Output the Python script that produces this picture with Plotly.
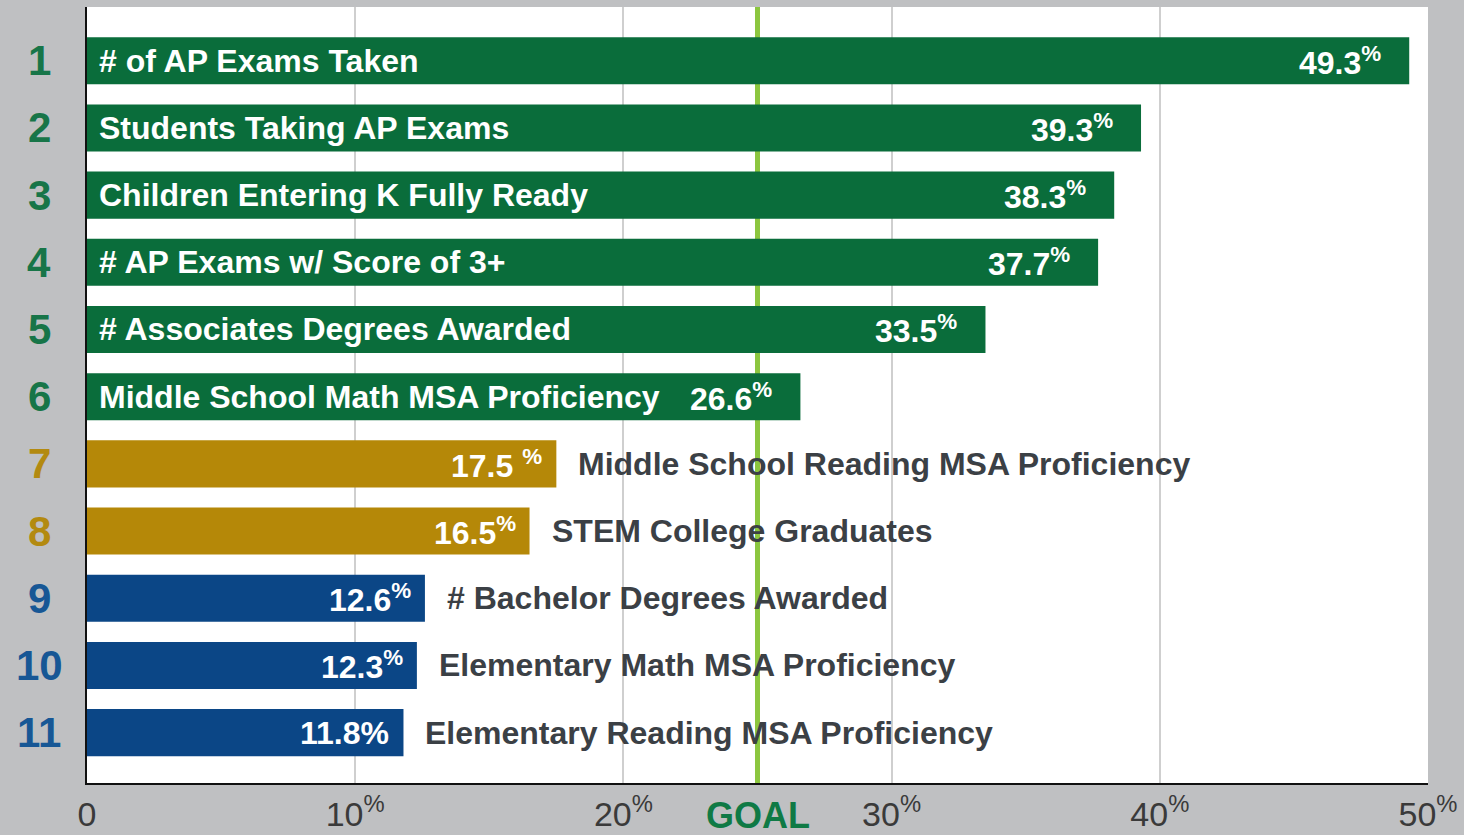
import plotly.graph_objects as go

# ---------------- data ----------------
ranks = [1, 2, 3, 4, 5, 6, 7, 8, 9, 10, 11]
labels = [
    "# of AP Exams Taken",
    "Students Taking AP Exams",
    "Children Entering K Fully Ready",
    "# AP Exams w/ Score of 3+",
    "# Associates Degrees Awarded",
    "Middle School Math MSA Proficiency",
    "Middle School Reading MSA Proficiency",
    "STEM College Graduates",
    "# Bachelor Degrees Awarded",
    "Elementary Math MSA Proficiency",
    "Elementary Reading MSA Proficiency",
]
values = [49.3, 39.3, 38.3, 37.7, 33.5, 26.6, 17.5, 16.5, 12.6, 12.3, 11.8]
value_text = ["49.3<sup>%</sup>", "39.3<sup>%</sup>", "38.3<sup>%</sup>", "37.7<sup>%</sup>",
              "33.5<sup>%</sup>", "26.6<sup>%</sup>", "17.5 <sup>%</sup>", "16.5<sup>%</sup>",
              "12.6<sup>%</sup>", "12.3<sup>%</sup>", "11.8%"]
tiers = ["top", "top", "top", "top", "top", "top", "mid", "mid", "low", "low", "low"]
goal = 25
tick_vals = [0, 10, 20, 30, 40, 50]
tick_labels = ["0", "10<sup>%</sup>", "20<sup>%</sup>", "30<sup>%</sup>", "40<sup>%</sup>", "50<sup>%</sup>"]
goal_label = "GOAL"

# ---------------- styles ----------------
bar_colors = {"top": "#0a6d3b", "mid": "#b58808", "low": "#0b4686"}
num_colors = {"top": "#177548", "mid": "#b38a10", "low": "#175795"}
FONT = "Liberation Sans, Arial, sans-serif"
BG = "#bfc0c2"
TXT = 32

fig = go.Figure()
fig.add_trace(go.Bar(
    x=values, y=ranks, orientation="h",
    marker=dict(color=[bar_colors[t] for t in tiers], line=dict(width=0)),
    width=0.7, hoverinfo="skip", showlegend=False,
))

annotations = []
for r, lab, v, vt, t in zip(ranks, labels, values, value_text, tiers):
    annotations.append(dict(
        x=0, xref="paper", y=r, yref="y", text=str(r), showarrow=False,
        xanchor="center", xshift=-48,
        font=dict(family=FONT, size=42, color=num_colors[t], weight="bold"),
    ))
    if t == "top":
        annotations.append(dict(
            x=0, y=r, xref="x", yref="y", text=lab, showarrow=False,
            xanchor="left", xshift=10,
            font=dict(family=FONT, size=TXT, color="white", weight="bold"),
        ))
        annotations.append(dict(
            x=v, y=r, xref="x", yref="y", text=vt, showarrow=False,
            xanchor="right", xshift=-26,
            font=dict(family=FONT, size=TXT, color="white", weight="bold"),
        ))
    else:
        annotations.append(dict(
            x=v, y=r, xref="x", yref="y", text=vt, showarrow=False,
            xanchor="right", xshift=-12,
            font=dict(family=FONT, size=TXT, color="white", weight="bold"),
        ))
        annotations.append(dict(
            x=v, y=r, xref="x", yref="y", text=lab, showarrow=False,
            xanchor="left", xshift=20,
            font=dict(family=FONT, size=TXT, color="#3b4045", weight="bold"),
        ))

annotations.append(dict(
    x=goal, xref="x", y=0, yref="paper", text=goal_label, showarrow=False,
    xanchor="center", yanchor="top", yshift=-10,
    font=dict(family=FONT, size=36, color="#0f7a45", weight="bold"),
))

fig.add_shape(type="line", x0=goal, x1=goal, xref="x", y0=0, y1=1, yref="paper",
              line=dict(color="#8cc63f", width=5), layer="below")

fig.update_layout(
    width=1464, height=835,
    margin=dict(l=87, r=36, t=7, b=52),
    paper_bgcolor=BG, plot_bgcolor="white",
    bargap=0.3,
    annotations=annotations,
    xaxis=dict(
        range=[0, 50], tickvals=tick_vals, ticktext=tick_labels,
        showgrid=True, gridcolor="#cfcfcf", gridwidth=1.5,
        showline=True, linecolor="#111111", linewidth=2,
        zeroline=False, ticks="", ticklabelstandoff=0,
        tickfont=dict(family=FONT, size=34, color="#3a3a3a"),
        fixedrange=True, automargin=False,
    ),
    yaxis=dict(
        range=[11.75, 0.2], showticklabels=False, showgrid=False,
        showline=True, linecolor="#111111", linewidth=2, zeroline=False,
        ticks="", fixedrange=True, automargin=False,
    ),
    font=dict(family=FONT),
)

fig.write_html(
    "out.html",
    config={"displayModeBar": False},
    post_script="document.body.style.margin='0';document.body.style.overflow='hidden';",
)
